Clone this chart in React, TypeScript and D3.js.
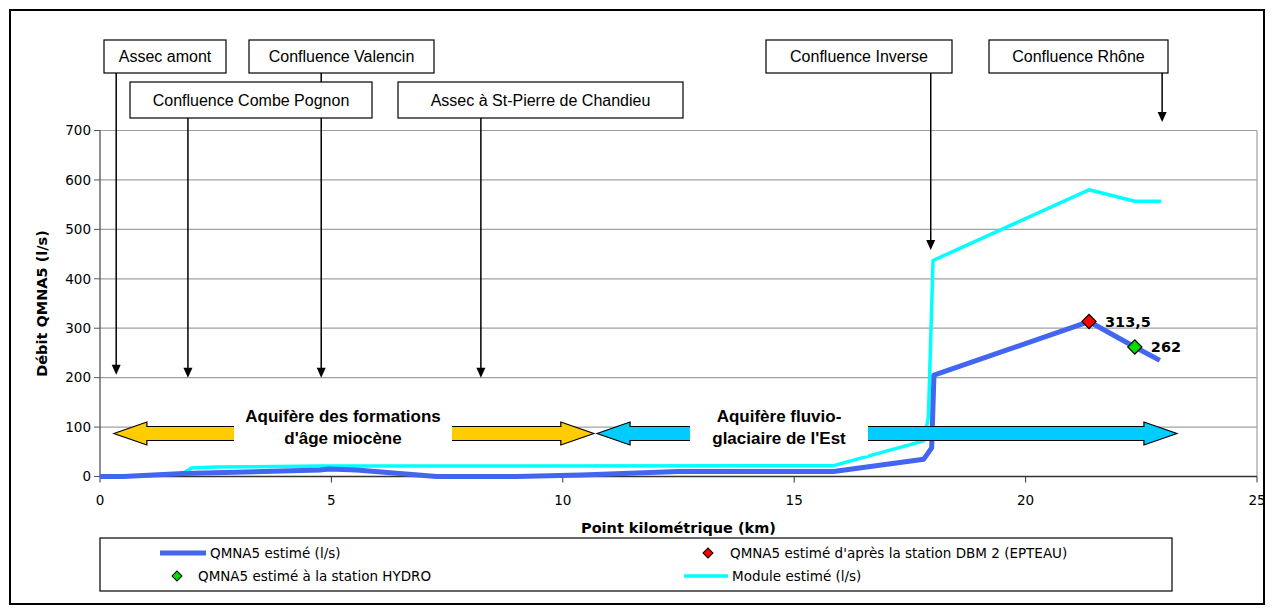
import * as d3 from "d3";

// données
const kmTicks = [0, 5, 10, 15, 20, 25];
const debitTicks = [0, 100, 200, 300, 400, 500, 600, 700];

const qmnaKm = [0, 0.5, 1.8, 4.75, 4.95, 5.55, 7.27, 9.0, 10.4, 12.5, 15.85, 17.8, 17.97, 18.02, 21.37, 22.36, 22.9];
const qmnaVal = [0, 0, 6, 13, 15, 13, 0, 0, 3, 10, 10, 35, 58, 205, 313.5, 262, 235];

const moduleKm = [1.82, 1.98, 2.5, 4.8, 15.85, 17.8, 17.9, 18.0, 21.37, 22.36, 22.93];
const moduleVal = [8, 17, 19, 21, 22, 72, 120, 437, 580, 557, 557];

const stations = [
  { km: 21.37, val: 313.5, label: "313,5", color: "#FF0000" },
  { km: 22.36, val: 262, label: "262", color: "#00DD00" },
];

// repères (boîtes + flèches)
const reperes = [
  { label: "Assec amont", km: 0.35, tip: 206, row: 0, x0: 104, x1: 226 },
  { label: "Confluence Valencin", km: 4.78, tip: 200, row: 0, x0: 249, x1: 434 },
  { label: "Confluence Combe Pognon", km: 1.9, tip: 200, row: 1, x0: 130, x1: 372 },
  { label: "Assec  à St-Pierre de Chandieu", km: 8.23, tip: 200, row: 1, x0: 398, x1: 683 },
  { label: "Confluence Inverse", km: 17.95, tip: 458, row: 0, x0: 766, x1: 952 },
  { label: "Confluence Rhône", km: 22.95, tip: 717, row: 0, x0: 989, x1: 1168 },
];

const aquiferes = [
  { lines: ["Aquifère des formations", "d'âge miocène"], from: 0.3, to: 10.67, val: 87, fill: "#FFCC00", gap: [234, 452] },
  { lines: ["Aquifère fluvio-", "glaciaire de l'Est"], from: 10.74, to: 23.27, val: 87, fill: "#00CCFF", gap: [690, 868] },
];

const BLUE = "#4266F0";
const CYAN = "#00FFFF";

const W = 1274;
const H = 613;
const margin = { left: 100, right: 17, top: 130.5, bottom: 136 };

const tickFont = "DejaVu Sans, Verdana, sans-serif";
const arialFont = "Liberation Sans, Arial, sans-serif";

function blockArrow(x0: number, x1: number, cy: number) {
  const sh = 7;
  const hh = 11.5;
  const hl = 33;
  return [
    [x0, cy],
    [x0 + hl, cy - hh],
    [x0 + hl, cy - sh],
    [x1 - hl, cy - sh],
    [x1 - hl, cy - hh],
    [x1, cy],
    [x1 - hl, cy + hh],
    [x1 - hl, cy + sh],
    [x0 + hl, cy + sh],
    [x0 + hl, cy + hh],
  ]
    .map((p, i) => (i === 0 ? "M" : "L") + p[0] + "," + p[1])
    .join("") + "Z";
}

const App = () => {
  const x = d3.scaleLinear().domain([0, 25]).range([margin.left, W - margin.right]);
  const y = d3.scaleLinear().domain([0, 700]).range([H - margin.bottom - 0.5, margin.top]);

  const line = d3
    .line<[number, number]>()
    .x((d) => x(d[0]))
    .y((d) => y(d[1]));

  const qmnaPts = qmnaKm.map((k, i) => [k, qmnaVal[i]] as [number, number]);
  const modulePts = moduleKm.map((k, i) => [k, moduleVal[i]] as [number, number]);

  const diamond = d3.symbol(d3.symbolSquare, 100)();
  const diamondSmall = d3.symbol(d3.symbolSquare, 50)();

  const rows = [
    { top: 40, bottom: 73 },
    { top: 82, bottom: 118 },
  ];

  const x0 = x(0);
  const x25 = x(25);
  const y0 = y(0);
  const y700 = y(700);

  return (
    <svg width={W} height={H} style={{ position: "absolute", left: 0, top: 0, background: "#fff" }}>
      <rect x={0} y={0} width={W} height={H} fill="#fff" />
      <rect x={10} y={10} width={1254} height={594} fill="none" stroke="#000" strokeWidth={2} />

      {/* grille */}
      {debitTicks.filter((t) => t > 0).map((t) => (
        <line key={t} x1={x0} x2={x25} y1={y(t)} y2={y(t)} stroke="#A0A0A0" strokeWidth={1.2} />
      ))}
      <line x1={x25} x2={x25} y1={y700} y2={y0} stroke="#A0A0A0" strokeWidth={1.2} />

      {/* axes */}
      <line x1={x0} x2={x0} y1={y700} y2={y0} stroke="#555" strokeWidth={1.3} />
      <line x1={x0} x2={x25} y1={y0} y2={y0} stroke="#333" strokeWidth={1.3} />
      {debitTicks.map((t) => (
        <g key={t}>
          <line x1={x0 - 6} x2={x0} y1={y(t)} y2={y(t)} stroke="#555" />
          <text x={x0 - 9} y={y(t)} dy="0.35em" textAnchor="end" fontFamily={tickFont} fontSize={13.5} fill="#000">
            {t}
          </text>
        </g>
      ))}
      {kmTicks.map((t) => (
        <g key={t}>
          <line x1={x(t)} x2={x(t)} y1={y0} y2={y0 + 6} stroke="#333" />
          <text x={x(t)} y={y0 + 24} dy="0.35em" textAnchor="middle" fontFamily={tickFont} fontSize={13.5} fill="#000">
            {t}
          </text>
        </g>
      ))}
      <text
        x={(x0 + x25) / 2}
        y={528}
        dy="0.35em"
        textAnchor="middle"
        fontFamily={tickFont}
        fontWeight="bold"
        fontSize={14.5}
      >
        Point kilométrique (km)
      </text>
      <text
        transform={`translate(42,${(y0 + y700) / 2}) rotate(-90)`}
        dy="0.35em"
        textAnchor="middle"
        fontFamily={tickFont}
        fontWeight="bold"
        fontSize={14.5}
      >
        Débit QMNA5 (l/s)
      </text>

      {/* séries */}
      <path d={line(modulePts) || ""} fill="none" stroke={CYAN} strokeWidth={3.5} strokeLinejoin="round" />
      <path d={line(qmnaPts) || ""} fill="none" stroke={BLUE} strokeWidth={5} strokeLinejoin="round" />

      {stations.map((s) => (
        <g key={s.label}>
          <path
            d={diamond}
            transform={`translate(${x(s.km)},${y(s.val)}) rotate(45)`}
            fill={s.color}
            stroke="#000"
            strokeWidth={1.2}
          />
          <text
            x={x(s.km) + 16}
            y={y(s.val)}
            dy="0.35em"
            fontFamily={tickFont}
            fontWeight="bold"
            fontSize={14.5}
          >
            {s.label}
          </text>
        </g>
      ))}

      {/* repères */}
      {reperes.map((r) => {
        const rx = x(r.km);
        const top = rows[r.row].bottom;
        const ty = y(r.tip);
        return (
          <g key={r.label}>
            <line x1={rx} x2={rx} y1={top} y2={ty - 8} stroke="#000" strokeWidth={1.5} />
            <path d={`M${rx - 4.5},${ty - 10}L${rx + 4.5},${ty - 10}L${rx},${ty}Z`} fill="#000" />
          </g>
        );
      })}
      {reperes.map((r) => {
        const rw = rows[r.row];
        return (
          <g key={r.label + "b"}>
            <rect x={r.x0} y={rw.top} width={r.x1 - r.x0} height={rw.bottom - rw.top} fill="#fff" stroke="#000" strokeWidth={1.2} />
            <text
              x={(r.x0 + r.x1) / 2}
              y={(rw.top + rw.bottom) / 2}
              dy="0.35em"
              textAnchor="middle"
              fontFamily={arialFont}
              fontSize={16}
            >
              {r.label}
            </text>
          </g>
        );
      })}

      {/* aquifères */}
      {aquiferes.map((a) => {
        const cy = y(a.val);
        return (
          <g key={a.lines[0]}>
            <path d={blockArrow(x(a.from), x(a.to), cy)} fill={a.fill} stroke="#000" strokeWidth={1.2} />
            <rect x={a.gap[0]} y={cy - 30} width={a.gap[1] - a.gap[0]} height={52} fill="#fff" />
            {a.lines.map((l, i) => (
              <text
                key={l}
                x={(a.gap[0] + a.gap[1]) / 2}
                y={cy - 17 + i * 22}
                dy="0.35em"
                textAnchor="middle"
                fontFamily={arialFont}
                fontWeight="bold"
                fontSize={17}
              >
                {l}
              </text>
            ))}
          </g>
        );
      })}

      {/* légende */}
      <rect x={100} y={538} width={1072} height={53} fill="#fff" stroke="#000" strokeWidth={1.2} />
      <line x1={160} x2={206} y1={553} y2={553} stroke={BLUE} strokeWidth={5} />
      <text x={210} y={553} dy="0.35em" fontFamily={tickFont} fontSize={13.5}>
        QMNA5 estimé (l/s)
      </text>
      <path d={diamondSmall} transform="translate(708,553) rotate(45)" fill="#FF0000" stroke="#000" />
      <text x={730} y={553} dy="0.35em" fontFamily={tickFont} fontSize={13.5}>
        QMNA5 estimé d'après la station DBM 2 (EPTEAU)
      </text>
      <path d={diamondSmall} transform="translate(177,576) rotate(45)" fill="#00DD00" stroke="#000" />
      <text x={198} y={576} dy="0.35em" fontFamily={tickFont} fontSize={13.5}>
        QMNA5 estimé à la station HYDRO
      </text>
      <line x1={684} x2={728} y1={576} y2={576} stroke={CYAN} strokeWidth={3.5} />
      <text x={732} y={576} dy="0.35em" fontFamily={tickFont} fontSize={13.5}>
        Module estimé (l/s)
      </text>
    </svg>
  );
};

export default App;
